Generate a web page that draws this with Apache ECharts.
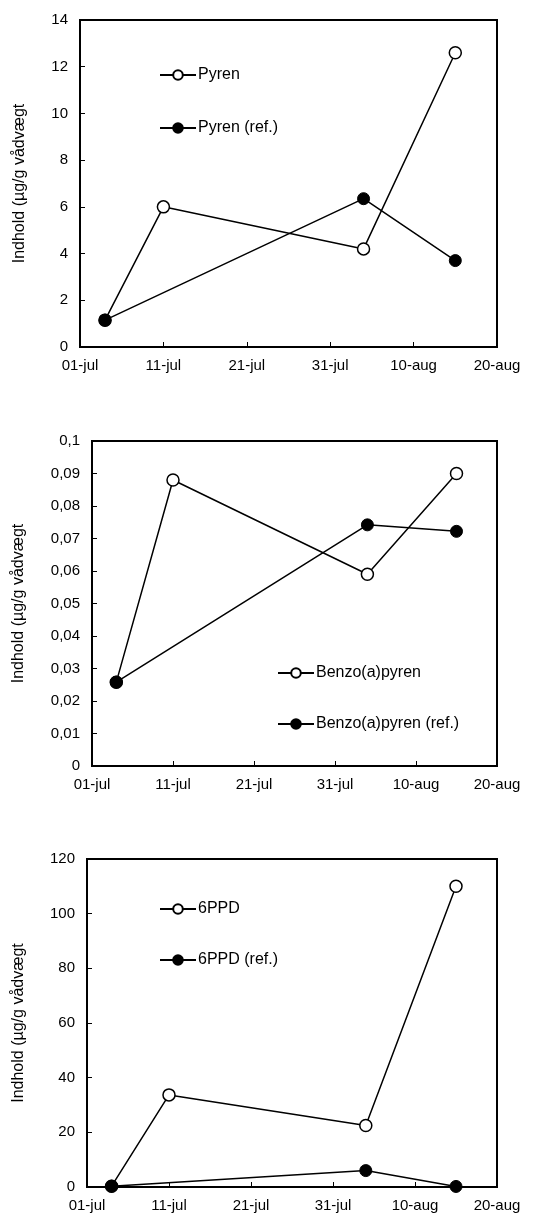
<!DOCTYPE html>
<html>
<head>
<meta charset="utf-8">
<script src="https://cdn.jsdelivr.net/npm/echarts@6/dist/echarts.min.js"></script>
<style>
  html, body { margin: 0; padding: 0; background: #fff; }
  #chart { width: 541px; height: 1220px; }
</style>
</head>
<body>
<div id="chart"></div>
<script>
"use strict";

// day numbers counted from 01-jul
var dateTicks = ["01-jul", "11-jul", "21-jul", "31-jul", "10-aug", "20-aug"];
var sampleDays = [3, 10, 34, 45];
var refDays = [3, 34, 45];

var pyren = [1.15, 6.0, 4.2, 12.6];
var pyrenRef = [1.15, 6.35, 3.7];

var bap = [0.0258, 0.088, 0.059, 0.090];
var bapRef = [0.0258, 0.0742, 0.0722];

var ppd = [0.3, 33.7, 22.5, 110];
var ppdRef = [0.3, 6.0, 0.2];

var yName = "Indhold (µg/g vådvægt";
var font = "Arial, 'Liberation Sans', sans-serif";

function pairs(xs, ys) {
  return xs.map(function (d, i) { return [d, ys[i]]; });
}

function xAxisFor(idx) {
  return {
    gridIndex: idx,
    type: "value",
    min: 0,
    max: 50,
    interval: 10,
    axisLine: { show: true, lineStyle: { color: "#000", width: 2 } },
    axisTick: { inside: true, length: 5, lineStyle: { color: "#000", width: 1 } },
    axisLabel: {
      margin: 11,
      fontSize: 15,
      fontFamily: font,
      color: "#000",
      formatter: function (v) { return dateTicks[Math.round(v / 10)]; },
    },
    splitLine: { show: false },
  };
}

function yAxisFor(idx, max, interval, gap, comma) {
  return {
    gridIndex: idx,
    type: "value",
    min: 0,
    max: max,
    interval: interval,
    name: yName,
    nameLocation: "middle",
    nameGap: gap,
    nameTextStyle: { fontSize: 16, fontFamily: font, color: "#000" },
    axisLine: { show: true, lineStyle: { color: "#000", width: 2 } },
    axisTick: { inside: true, length: 5, lineStyle: { color: "#000", width: 1 } },
    axisLabel: {
      margin: 12,
      fontSize: 15,
      fontFamily: font,
      color: "#000",
      formatter: function (v) {
        return comma ? String(+v.toFixed(4)).replace(".", ",") : String(v);
      },
    },
    splitLine: { show: false },
  };
}

function openSeries(name, idx, data) {
  return {
    name: name,
    type: "line",
    xAxisIndex: idx,
    yAxisIndex: idx,
    data: data,
    symbol: "circle",
    symbolSize: 12,
    showAllSymbol: true,
    lineStyle: { color: "#000", width: 1.5 },
    itemStyle: { color: "#fff", borderColor: "#000", borderWidth: 1.5 },
    emphasis: { disabled: true },
    z: 2,
  };
}

function filledSeries(name, idx, data) {
  return {
    name: name,
    type: "line",
    xAxisIndex: idx,
    yAxisIndex: idx,
    data: data,
    symbol: "circle",
    symbolSize: 12,
    showAllSymbol: true,
    lineStyle: { color: "#000", width: 1.5 },
    itemStyle: { color: "#000", borderColor: "#000", borderWidth: 1 },
    emphasis: { disabled: true },
    z: 3,
  };
}

function legendFor(names, left, top, gap) {
  return {
    data: names,
    orient: "vertical",
    left: left,
    top: top,
    itemWidth: 36,
    itemHeight: 12,
    itemGap: gap,
    textStyle: { fontSize: 16, fontFamily: font, color: "#000", padding: [0, 0, 0, -3] },
  };
}

var gridBase = { show: true, borderColor: "#000", borderWidth: 2, backgroundColor: "transparent" };

var myChart = echarts.init(document.getElementById("chart"), null, { renderer: "canvas" });

myChart.setOption({
  animation: false,
  backgroundColor: "#fff",
  grid: [
    Object.assign({ left: 80, right: 44, top: 20, height: 327 }, gridBase),
    Object.assign({ left: 92, right: 44, top: 441, height: 325 }, gridBase),
    Object.assign({ left: 87, right: 44, top: 859, height: 328 }, gridBase),
  ],
  xAxis: [xAxisFor(0), xAxisFor(1), xAxisFor(2)],
  yAxis: [
    yAxisFor(0, 14, 2, 52, false),
    yAxisFor(1, 0.1, 0.01, 65, true),
    yAxisFor(2, 120, 20, 60, false),
  ],
  legend: [
    legendFor(["Pyren", "Pyren (ref.)"], 154, 62, 37),
    legendFor(["Benzo(a)pyren", "Benzo(a)pyren (ref.)"], 272, 660, 35),
    legendFor(["6PPD", "6PPD (ref.)"], 154, 896, 35),
  ],
  series: [
    openSeries("Pyren", 0, pairs(sampleDays, pyren)),
    filledSeries("Pyren (ref.)", 0, pairs(refDays, pyrenRef)),
    openSeries("Benzo(a)pyren", 1, pairs(sampleDays, bap)),
    filledSeries("Benzo(a)pyren (ref.)", 1, pairs(refDays, bapRef)),
    openSeries("6PPD", 2, pairs(sampleDays, ppd)),
    filledSeries("6PPD (ref.)", 2, pairs(refDays, ppdRef)),
  ],
});
</script>
</body>
</html>
